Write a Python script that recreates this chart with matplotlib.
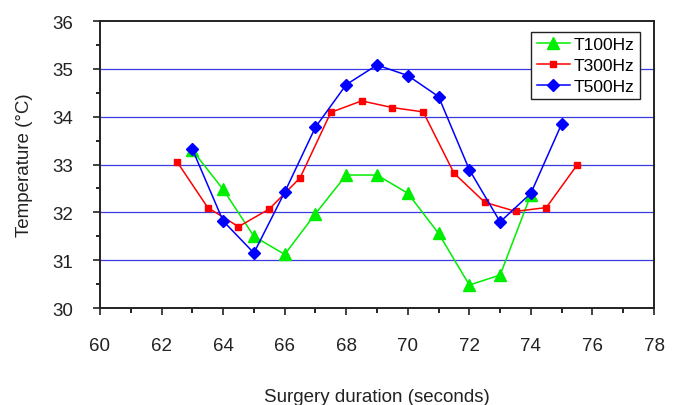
import matplotlib
matplotlib.use("Agg")
import matplotlib.pyplot as plt
from matplotlib.ticker import MultipleLocator

plt.rcParams["font.family"] = ["Liberation Sans", "DejaVu Sans"]

# data
t100_x = [63, 64, 65, 66, 67, 68, 69, 70, 71, 72, 73, 74]
t100_y = [33.3, 32.48, 31.5, 31.12, 31.97, 32.78, 32.78, 32.4, 31.56, 30.48, 30.69, 32.37]

t300_x = [62.5, 63.5, 64.5, 65.5, 66.5, 67.5, 68.5, 69.5, 70.5, 71.5, 72.5, 73.5, 74.5, 75.5]
t300_y = [33.06, 32.1, 31.7, 32.07, 32.72, 34.09, 34.33, 34.19, 34.1, 32.82, 32.21, 32.02, 32.1, 32.99]

t500_x = [63, 64, 65, 66, 67, 68, 69, 70, 71, 72, 73, 74, 75]
t500_y = [33.32, 31.82, 31.15, 32.42, 33.78, 34.67, 35.08, 34.86, 34.42, 32.89, 31.8, 32.4, 33.85]

grid_levels = [31, 32, 33, 34, 35]


def main() -> None:
    fig = plt.figure(figsize=(6.82, 4.06), dpi=100)
    ax = fig.add_axes([0.1466, 0.2389, 0.8124, 0.7069])

    for g in grid_levels:
        ax.axhline(g, color="#3a3ae0", lw=0.9, zorder=1)

    ax.plot(t100_x, t100_y, color="#00ee00", lw=1.1, marker="^", ms=8,
            label="T100Hz", zorder=3)
    ax.plot(t300_x, t300_y, color="#ff0000", lw=1.1, marker="s", ms=5,
            label="T300Hz", zorder=3)
    ax.plot(t500_x, t500_y, color="#0000ff", lw=1.1, marker="D", ms=6.5,
            label="T500Hz", zorder=4)

    ax.set_xlim(60, 78)
    ax.set_ylim(30, 36)
    ax.xaxis.set_major_locator(MultipleLocator(2))
    ax.xaxis.set_minor_locator(MultipleLocator(1))
    ax.yaxis.set_major_locator(MultipleLocator(1))
    ax.yaxis.set_minor_locator(MultipleLocator(0.5))

    ax.tick_params(axis="both", which="major", direction="out", length=5,
                   width=1.2, labelsize=13.5, colors="#222222", pad=14)
    ax.tick_params(axis="x", which="major", pad=16)
    ax.tick_params(axis="x", which="minor", direction="out", length=3.3, width=1.2)
    ax.tick_params(axis="y", which="minor", direction="out", length=3, width=1.2)

    for side in ["left", "bottom", "right", "top"]:
        ax.spines[side].set_linewidth(1.4)
        ax.spines[side].set_color("#222222")

    ax.set_xlabel("Surgery duration (seconds)", fontsize=13.5, color="#222222", labelpad=24)
    ax.set_ylabel("Temperature (°C)", fontsize=13.5, color="#222222", labelpad=14)

    leg = ax.legend(loc="upper right", bbox_to_anchor=(0.9747, 0.9617),
                    fontsize=12.5, frameon=True, fancybox=False,
                    handlelength=1.9, handletextpad=0.25, borderpad=0.3,
                    labelspacing=0.32, borderaxespad=0)
    leg.get_frame().set_edgecolor("#222222")
    leg.get_frame().set_linewidth(1.0)
    leg.get_frame().set_alpha(1)

    fig.savefig("out.png", dpi=100)
    plt.close(fig)


if __name__ == "__main__":
    main()
